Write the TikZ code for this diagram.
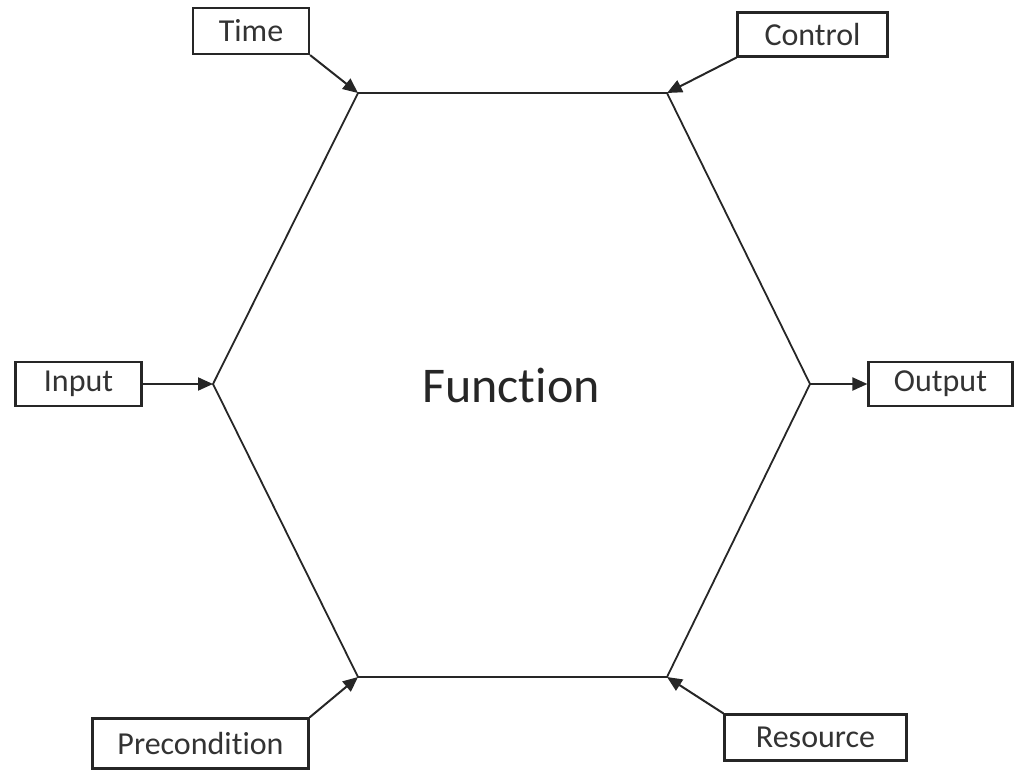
\documentclass[tikz,border=0pt]{standalone}
\usepackage{fontspec}
\setmainfont{Carlito}[Ligatures=NoCommon]
\usetikzlibrary{arrows.meta}
\begin{document}
\begin{tikzpicture}[x=0.5pt,y=-0.5pt,
  lbl/.style={draw=black!85,line width=1.1pt,fill=white,inner sep=0pt,font=\fontsize{16}{18}\selectfont,text=black!80},
  edge/.style={draw=black!85,line width=0.9pt},
  feed/.style={draw=black!85,line width=1pt,-{Triangle[length=7.5pt,width=6.5pt]}}]
\useasboundingbox (0,0) rectangle (1020,771);
% hexagon corners
\coordinate (tl) at (358,93);
\coordinate (tr) at (667,93);
\coordinate (r)  at (810,384);
\coordinate (br) at (667,677);
\coordinate (bl) at (358,677);
\coordinate (l)  at (213,384);
\draw[edge] (tl) -- (tr) -- (r) -- (br) -- (bl) -- (l) -- cycle;
\node[text=black!85,font=\fontsize{25}{30}\selectfont] (fn) at (511,385) {Function};
% aspect boxes
\node[lbl,minimum width=58pt,minimum height=23pt] (time) at (251,31) {Time};
\node[lbl,minimum width=75pt,minimum height=22pt] (ctrl) at (812.5,34.5) {Control};
\node[lbl,minimum width=63pt,minimum height=22pt] (in) at (78.5,384) {Input};
\node[lbl,minimum width=72pt,minimum height=22pt] (out) at (940.5,384) {Output};
\node[lbl,minimum width=108pt,minimum height=25pt] (pre) at (200.5,743.5) {Precondition};
\node[lbl,minimum width=91pt,minimum height=23pt] (res) at (815.5,737.5) {Resource};
% connectors
\draw[feed] (time.south east) -- (tl);
\draw[feed] (ctrl.south west) -- (tr);
\draw[feed] (in.east) -- (l);
\draw[feed] (r) -- (out.west);
\draw[feed] (pre.north east) -- (bl);
\draw[feed] (res.north west) -- (br);
\end{tikzpicture}
\end{document}
